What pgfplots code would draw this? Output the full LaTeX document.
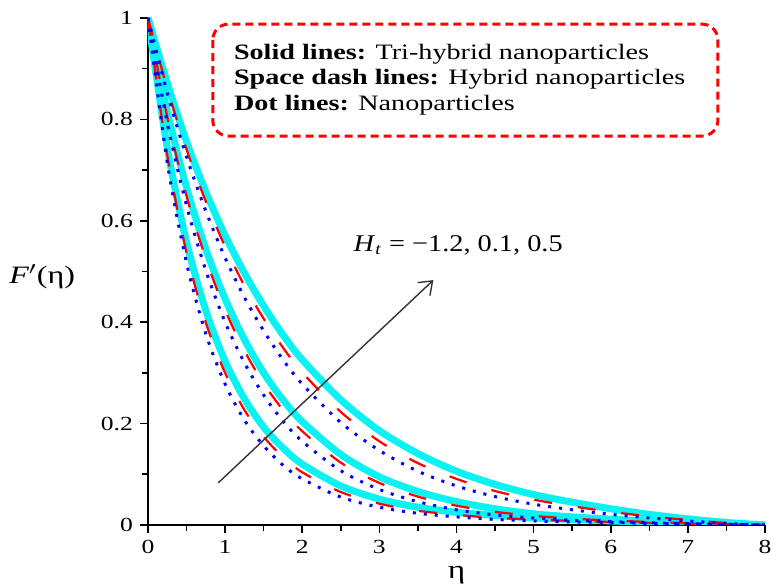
\documentclass[border=0pt]{standalone}
\usepackage{fontspec}
\setmainfont{Liberation Serif}
\usepackage{graphicx}
\usepackage{pgfplots}
\pgfplotsset{compat=1.18}
\usetikzlibrary{arrows.meta}

% F'(eta) curves, three values of H_t (-1.2, 0.1, 0.5)
\pgfplotstableread{
x     tri     hyb     nano
0     1.000   1.000   1.000
0.25  0.744   0.730   0.715
0.5   0.558   0.537   0.517
0.75  0.423   0.399   0.377
1.0   0.323   0.300   0.278
1.25  0.249   0.227   0.207
1.5   0.193   0.174   0.156
1.75  0.152   0.134   0.118
2.0   0.120   0.104   0.091
2.5   0.077   0.065   0.055
3.0   0.051   0.042   0.035
3.5   0.035   0.028   0.023
4.0   0.025   0.020   0.016
4.5   0.019   0.014   0.011
5.0   0.014   0.011   0.008
5.5   0.011   0.008   0.006
6.0   0.008   0.006   0.005
6.5   0.0055  0.0042  0.0032
7.0   0.0035  0.0027  0.0020
7.5   0.0017  0.0012  0.0010
8.0   0.000   0.000   0.000
}\lowH
\pgfplotstableread{
x     tri     hyb     nano
0     1.000   1.000   1.000
0.25  0.815   0.805   0.793
0.5   0.666   0.649   0.630
0.75  0.544   0.525   0.502
1.0   0.446   0.424   0.400
1.25  0.366   0.344   0.320
1.5   0.300   0.279   0.256
1.75  0.247   0.227   0.205
2.0   0.204   0.185   0.165
2.5   0.139   0.123   0.107
3.0   0.095   0.083   0.070
3.5   0.066   0.056   0.046
4.0   0.046   0.038   0.030
4.5   0.032   0.026   0.020
5.0   0.022   0.018   0.014
5.5   0.016   0.0125  0.0095
6.0   0.0115  0.0088  0.0067
6.5   0.0078  0.0060  0.0045
7.0   0.0048  0.0037  0.0027
7.5   0.0022  0.0017  0.0012
8.0   0.000   0.000   0.000
}\midH
\pgfplotstableread{
x     tri     hyb     nano
0     1.000   1.000   1.000
0.25  0.872   0.861   0.852
0.5   0.756   0.741   0.726
0.75  0.657   0.638   0.619
1.0   0.571   0.549   0.527
1.25  0.497   0.472   0.449
1.5   0.432   0.407   0.383
1.75  0.375   0.350   0.326
2.0   0.326   0.301   0.278
2.5   0.247   0.223   0.202
3.0   0.186   0.165   0.147
3.5   0.141   0.122   0.106
4.0   0.106   0.091   0.077
4.5   0.080   0.067   0.056
5.0   0.060   0.050   0.041
5.5   0.045   0.037   0.030
6.0   0.032   0.026   0.021
6.5   0.021   0.017   0.014
7.0   0.012   0.010   0.008
7.5   0.005   0.004   0.003
8.0   0.000   0.000   0.000
}\highH

\newcommand{\wide}[1]{\scalebox{1.28}[1]{#1}}

\begin{document}
\begin{tikzpicture}
\definecolor{Cy}{RGB}{10,242,242}
\tikzset{
  tri/.style={Cy, line width=3.5pt, smooth},
  hyb/.style={red, line width=1.1pt, dash pattern=on 9pt off 13pt, smooth},
  nano/.style={blue, line width=1.5pt, dash pattern=on 1.5pt off 4pt, smooth},
}
\begin{axis}[
  scale only axis,
  width=308.5pt, height=253.5pt,
  xmin=0, xmax=8, ymin=0, ymax=1,
  axis x line*=bottom, axis y line*=left,
  axis line style={line width=0.9pt},
  tick align=outside,
  tick style={black, line width=0.8pt},
  major tick length=4pt, minor tick length=3pt,
  xtick={0,1,...,8}, ytick={0,0.2,0.4,0.6,0.8,1},
  minor x tick num=1, minor y tick num=1,
  tick label style={font=\fontsize{10}{12}\selectfont},
  xticklabel={\wide{\pgfmathprintnumber[assume math mode=true]{\tick}}},
  yticklabel={\wide{\pgfmathprintnumber[assume math mode=true]{\tick}}},
  every axis x label/.style={at={(rel axis cs:0.5,0)}, anchor=center, yshift=-25pt},
  every axis y label/.style={at={(rel axis cs:0,0.49)}, anchor=east, xshift=-33pt},
  xlabel={\fontsize{13}{14}\selectfont\wide{η}},
  ylabel={\fontsize{12.5}{14}\selectfont\wide{\textit{F}$^{\prime}$(η)}},
]
\addplot[tri] table[y=tri] {\lowH};
\addplot[tri] table[y=tri] {\midH};
\addplot[tri] table[y=tri] {\highH};
\addplot[hyb] table[y=hyb] {\lowH};
\addplot[hyb] table[y=hyb] {\midH};
\addplot[hyb] table[y=hyb] {\highH};
\addplot[nano] table[y=nano] {\lowH};
\addplot[nano] table[y=nano] {\midH};
\addplot[nano] table[y=nano] {\highH};

\draw[red, line width=1.5pt, dash pattern=on 4pt off 2.5pt, rounded corners=8pt]
  (axis cs:0.84,0.988) rectangle (axis cs:7.39,0.767);
\node[anchor=north west, align=left, inner sep=0pt,
      font=\fontsize{11}{12.7}\selectfont]
  at (axis cs:1.11,0.949)
  {\wide{\textbf{Solid lines:} Tri-hybrid nanoparticles}\\
   \wide{\textbf{Space dash lines:} Hybrid nanoparticles}\\
   \wide{\textbf{Dot lines:} Nanoparticles}};

\draw[black!80, line width=0.7pt, -{Straight Barb[length=6pt,width=9pt]}]
  (axis cs:0.91,0.083) -- (axis cs:3.70,0.483);
\node[anchor=west, inner sep=0pt, font=\fontsize{12}{14}\selectfont]
  at (axis cs:2.66,0.552)
  {\scalebox{1.18}[1]{\textit{H}\textsubscript{\textit{t}} = −1.2,\ 0.1, 0.5}};

\coordinate (bl) at (rel axis cs:0,0);
\coordinate (tr) at (rel axis cs:1,1);
\end{axis}
\path (bl) ++(-74pt,-31pt) coordinate (a);
\path (tr) ++(3pt,9pt) coordinate (b);
\pgfresetboundingbox
\useasboundingbox (a) rectangle (b);
\end{tikzpicture}
\end{document}
